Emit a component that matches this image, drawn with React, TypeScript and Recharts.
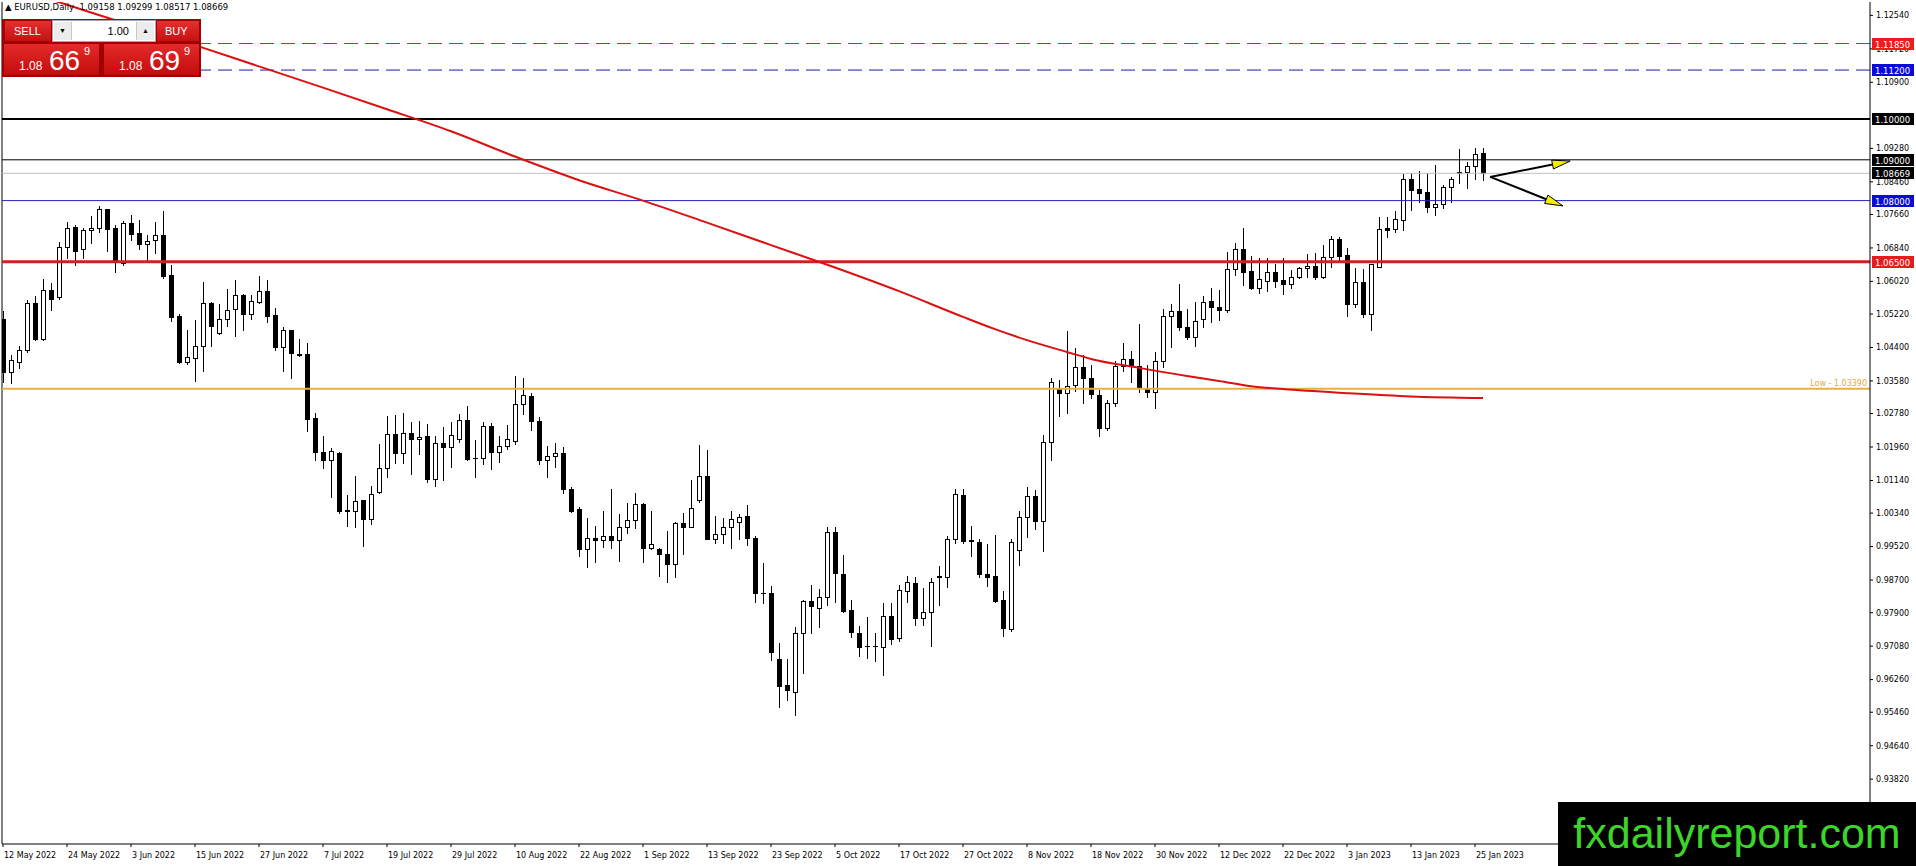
import React from "react";
import { ComposedChart, Bar, Line, XAxis, YAxis, ReferenceLine } from "recharts";

document.body.style.margin = "0";

// EURUSD daily, 12 May 2022 .. 26 Jan 2023
const opens = [
  1.0511, 1.0379, 1.0405, 1.0435, 1.0548, 1.0460, 1.0582, 1.0564, 1.0687, 1.0735,
  1.0681, 1.0727, 1.0734, 1.0779, 1.0734, 1.0646, 1.0745, 1.0720, 1.0693, 1.0703,
  1.0716, 1.0618, 1.0517, 1.0405, 1.0415, 1.0444, 1.0548, 1.0475, 1.0509, 1.0534,
  1.0569, 1.0521, 1.0552, 1.0579, 1.0519, 1.0440, 1.0483, 1.0423, 1.0423, 1.0266,
  1.0183, 1.0163, 1.0181, 1.0042, 1.0039, 1.0066, 1.0019, 1.0087, 1.0144, 1.0227,
  1.0181, 1.0230, 1.0215, 1.0223, 1.0118, 1.0205, 1.0197, 1.0215, 1.0262, 1.0168,
  1.0168, 1.0248, 1.0183, 1.0199, 1.0212, 1.0301, 1.0321, 1.0260, 1.0163, 1.0174,
  1.0181, 1.0092, 1.0044, 0.9945, 0.9973, 0.9967, 0.9977, 0.9967, 1.0001, 1.0016,
  1.0056, 0.9948, 0.9946, 0.9934, 0.9909, 1.0009, 1.0001, 1.0066, 1.0125, 0.9971,
  0.9982, 1.0001, 1.0013, 1.0027, 0.9974, 0.9839, 0.9837, 0.9676, 0.9613, 0.9596,
  0.9739, 0.9819, 0.9801, 0.9828, 0.9987, 0.9886, 0.9797, 0.9741, 0.9708, 0.9708,
  0.9707, 0.9782, 0.9729, 0.9844, 0.9862, 0.9776, 0.9791, 0.9878, 0.9877, 0.9970,
  1.0078, 0.9967, 0.9962, 0.9886, 0.9880, 0.9821, 0.9750, 0.9944, 1.0024, 1.0076,
  1.0015, 1.0209, 1.0340, 1.0328, 1.0348, 1.0393, 1.0364, 1.0323, 1.0242, 1.0303,
  1.0395, 1.0411, 1.0395, 1.0341, 1.0330, 1.0407, 1.0517, 1.0530, 1.0489, 1.0465,
  1.0509, 1.0554, 1.0538, 1.0533, 1.0632, 1.0681, 1.0627, 1.0587, 1.0604, 1.0624,
  1.0605, 1.0595, 1.0612, 1.0634, 1.0640, 1.0612, 1.0661, 1.0705, 1.0667, 1.0546,
  1.0601, 1.0521, 1.0638, 1.0732, 1.0731, 1.0753, 1.0852, 1.0828, 1.0822, 1.0785,
  1.0791, 1.0833, 1.0869, 1.0869, 1.0885, 1.09158,
];
const highs = [
  1.0529, 1.0422, 1.0444, 1.0556, 1.0565, 1.0607, 1.0597, 1.0698, 1.0747, 1.0739,
  1.0732, 1.0763, 1.0787, 1.0780, 1.0739, 1.0750, 1.0765, 1.0752, 1.0716, 1.0747,
  1.0775, 1.0642, 1.0522, 1.0484, 1.0507, 1.0600, 1.0552, 1.0547, 1.0583, 1.0605,
  1.0572, 1.0569, 1.0615, 1.0605, 1.0536, 1.0489, 1.0484, 1.0462, 1.0450, 1.0279,
  1.0223, 1.0193, 1.0185, 1.0078, 1.0125, 1.0066, 1.0100, 1.0203, 1.0273, 1.0274,
  1.0279, 1.0257, 1.0260, 1.0252, 1.0223, 1.0244, 1.0257, 1.0277, 1.0297, 1.0213,
  1.0257, 1.0254, 1.0224, 1.0250, 1.0370, 1.0366, 1.0328, 1.0269, 1.0199, 1.0205,
  1.0195, 1.0097, 1.0048, 1.0021, 1.0002, 1.0038, 1.0092, 1.0032, 1.0060, 1.0084,
  1.0058, 1.0038, 0.9949, 0.9990, 1.0013, 1.0035, 1.0115, 1.0201, 1.0189, 1.0027,
  1.0021, 1.0039, 1.0031, 1.0054, 0.9978, 0.9911, 0.9855, 0.9715, 0.9676, 0.9756,
  0.9820, 0.9858, 0.9847, 1.0001, 1.0000, 0.9931, 0.9821, 0.9757, 0.9779, 0.9739,
  0.9813, 0.9813, 0.9858, 0.9881, 0.9878, 0.9850, 0.9874, 0.9904, 0.9979, 1.0093,
  1.0092, 1.0002, 0.9971, 0.9958, 0.9980, 0.9843, 0.9971, 1.0038, 1.0099, 1.0091,
  1.0225, 1.0364, 1.0360, 1.0480, 1.0438, 1.0422, 1.0397, 1.0336, 1.0311, 1.0407,
  1.0452, 1.0432, 1.0497, 1.0397, 1.0430, 1.0534, 1.0546, 1.0595, 1.0534, 1.0551,
  1.0566, 1.0587, 1.0581, 1.0673, 1.0695, 1.0734, 1.0664, 1.0660, 1.0660, 1.0645,
  1.0660, 1.0631, 1.0638, 1.0669, 1.0672, 1.0691, 1.0714, 1.0710, 1.0683, 1.0634,
  1.0632, 1.0645, 1.0759, 1.0759, 1.0774, 1.0865, 1.0867, 1.0872, 1.0867, 1.0887,
  1.0838, 1.0859, 1.0926, 1.0895, 1.0928, 1.09299,
];
const lows = [
  1.0355, 1.0352, 1.0390, 1.0430, 1.0458, 1.0459, 1.0532, 1.0558, 1.0660, 1.0641,
  1.0660, 1.0697, 1.0724, 1.0676, 1.0626, 1.0642, 1.0703, 1.0681, 1.0650, 1.0671,
  1.0611, 1.0505, 1.0401, 1.0399, 1.0359, 1.0383, 1.0444, 1.0474, 1.0493, 1.0469,
  1.0483, 1.0511, 1.0550, 1.0503, 1.0434, 1.0383, 1.0366, 1.0418, 1.0236, 1.0163,
  1.0145, 1.0074, 1.0035, 1.0002, 1.0001, 0.9953, 1.0007, 1.0083, 1.0122, 1.0156,
  1.0156, 1.0131, 1.0179, 1.0110, 1.0100, 1.0115, 1.0148, 1.0208, 1.0164, 1.0123,
  1.0154, 1.0142, 1.0160, 1.0190, 1.0204, 1.0276, 1.0238, 1.0154, 1.0123, 1.0148,
  1.0083, 1.0036, 0.9930, 0.9903, 0.9913, 0.9952, 0.9949, 0.9917, 0.9985, 0.9997,
  0.9915, 0.9945, 0.9881, 0.9866, 0.9878, 0.9935, 0.9999, 1.0062, 0.9970, 0.9960,
  0.9960, 0.9948, 0.9970, 0.9957, 0.9817, 0.9813, 0.9674, 0.9560, 0.9575, 0.9539,
  0.9641, 0.9739, 0.9756, 0.9809, 0.9817, 0.9792, 0.9731, 0.9684, 0.9678, 0.9672,
  0.9637, 0.9713, 0.9721, 0.9817, 0.9761, 0.9760, 0.9709, 0.9809, 0.9852, 0.9960,
  0.9960, 0.9930, 0.9877, 0.9856, 0.9817, 0.9734, 0.9745, 0.9907, 0.9976, 0.9995,
  0.9940, 1.0164, 1.0273, 1.0280, 1.0333, 1.0305, 1.0315, 1.0224, 1.0238, 1.0297,
  1.0383, 1.0356, 1.0332, 1.0319, 1.0291, 1.0393, 1.0440, 1.0483, 1.0461, 1.0444,
  1.0489, 1.0503, 1.0507, 1.0528, 1.0618, 1.0592, 1.0583, 1.0574, 1.0579, 1.0589,
  1.0571, 1.0587, 1.0611, 1.0612, 1.0607, 1.0611, 1.0638, 1.0654, 1.0518, 1.0540,
  1.0514, 1.0483, 1.0637, 1.0710, 1.0722, 1.0728, 1.0777, 1.0797, 1.0773, 1.0765,
  1.0781, 1.0797, 1.0844, 1.0832, 1.0853, 1.08517,
];
const closes = [
  1.0381, 1.0409, 1.0434, 1.0548, 1.0460, 1.0582, 1.0560, 1.0687, 1.0734, 1.0677,
  1.0728, 1.0733, 1.0779, 1.0731, 1.0652, 1.0744, 1.0717, 1.0693, 1.0702, 1.0716,
  1.0616, 1.0515, 1.0405, 1.0417, 1.0444, 1.0548, 1.0493, 1.0509, 1.0533, 1.0569,
  1.0521, 1.0555, 1.0579, 1.0518, 1.0440, 1.0483, 1.0426, 1.0422, 1.0264, 1.0183,
  1.0163, 1.0187, 1.0040, 1.0038, 1.0064, 1.0019, 1.0080, 1.0144, 1.0227, 1.0181,
  1.0230, 1.0215, 1.0220, 1.0118, 1.0205, 1.0197, 1.0225, 1.0262, 1.0167, 1.0168,
  1.0248, 1.0185, 1.0199, 1.0215, 1.0301, 1.0324, 1.0261, 1.0163, 1.0174, 1.0181,
  1.0092, 1.0040, 0.9945, 0.9972, 0.9967, 0.9977, 0.9967, 1.0001, 1.0017, 1.0056,
  0.9948, 0.9958, 0.9933, 0.9909, 1.0009, 1.0001, 1.0046, 1.0125, 0.9971, 0.9982,
  1.0001, 1.0019, 1.0025, 0.9972, 0.9839, 0.9838, 0.9693, 0.9611, 0.9600, 0.9739,
  0.9819, 0.9807, 0.9828, 0.9987, 0.9888, 0.9794, 0.9742, 0.9707, 0.9708, 0.9709,
  0.9782, 0.9725, 0.9846, 0.9864, 0.9776, 0.9791, 0.9864, 0.9879, 0.9970, 1.0080,
  0.9966, 0.9966, 0.9886, 0.9878, 0.9819, 0.9752, 0.9962, 1.0024, 1.0076, 1.0015,
  1.0209, 1.0355, 1.0328, 1.0346, 1.0393, 1.0364, 1.0325, 1.0242, 1.0303, 1.0395,
  1.0411, 1.0395, 1.0344, 1.0330, 1.0407, 1.0517, 1.0530, 1.0489, 1.0465, 1.0506,
  1.0552, 1.0538, 1.0533, 1.0632, 1.0681, 1.0626, 1.0585, 1.0607, 1.0624, 1.0603,
  1.0595, 1.0612, 1.0634, 1.0640, 1.0612, 1.0661, 1.0705, 1.0665, 1.0546, 1.0601,
  1.0521, 1.0644, 1.0730, 1.0728, 1.0754, 1.0852, 1.0826, 1.0819, 1.0785, 1.0791,
  1.0833, 1.0852, 1.0867, 1.0885, 1.0915, 1.08669,
];

// moving average, read at a few bars; the library draws the curve between them
const maBars = [0, 8, 16, 24, 32, 40, 48, 56, 64, 72, 80, 88, 96, 104, 112, 120, 124, 128, 133, 136, 142, 148, 152, 156, 160, 168, 176, 185];
const maValues = [1.1330, 1.1280, 1.1230, 1.1181, 1.1129, 1.1077, 1.1024, 1.0970, 1.0908, 1.0850, 1.0800, 1.0746, 1.0691, 1.0636, 1.0578, 1.0515, 1.0485, 1.0458, 1.0429, 1.0412, 1.0390, 1.0370, 1.0358, 1.0345, 1.0338, 1.0328, 1.0320, 1.0316];

const dateLabels = [
  "12 May 2022", "24 May 2022", "3 Jun 2022", "15 Jun 2022", "27 Jun 2022", "7 Jul 2022",
  "19 Jul 2022", "29 Jul 2022", "10 Aug 2022", "22 Aug 2022", "1 Sep 2022", "13 Sep 2022",
  "23 Sep 2022", "5 Oct 2022", "17 Oct 2022", "27 Oct 2022", "8 Nov 2022", "18 Nov 2022",
  "30 Nov 2022", "12 Dec 2022", "22 Dec 2022", "3 Jan 2023", "13 Jan 2023", "25 Jan 2023",
];
const dateTicks = dateLabels.map((_, k) => k * 8);

const priceTicks = [
  1.1254, 1.1172, 1.109, 1.0928, 1.0846, 1.0766, 1.0684, 1.0602, 1.0522, 1.044, 1.0358, 1.0278,
  1.0196, 1.0114, 1.0034, 0.9952, 0.987, 0.979, 0.9708, 0.9626, 0.9546, 0.9464, 0.9382,
];

// horizontal levels and the price tags on the axis
const levelPrices = [1.1185, 1.112, 1.1, 1.09, 1.08669, 1.08, 1.065];
const levelTags = ["1.11850", "1.11200", "1.10000", "1.09000", "1.08669", "1.08000", "1.06500"];
const tagColors = ["#ee1c1c", "#0a0ad8", "#000", "#000", "#000", "#0a0ad8", "#e41c1c"];

// drawn objects: arrow start and the two tips (bar index, price)
const arrowFrom = { x: 185.9, y: 1.0858 };
const arrowUp = { x: 195.9, y: 1.0897 };
const arrowDown = { x: 195.0, y: 1.0787 };

const X_DOMAIN: [number, number] = [-0.125, 233.375];
const Y_DOMAIN: [number, number] = [0.9223, 1.12868];
const FONT = "'DejaVu Sans', Tahoma, sans-serif";
const UI_FONT = "'Liberation Sans', Arial, sans-serif";

const rows = opens.map((o, k) => {
  const m = maBars.indexOf(k);
  return {
    i: k,
    o,
    h: highs[k],
    l: lows[k],
    c: closes[k],
    range: [lows[k], highs[k]],
    ma: m >= 0 ? maValues[m] : null,
  };
});

function Candle(props: any) {
  const { x, y, width, height, payload } = props;
  if (x == null || y == null) return null;
  const { o, h, l, c } = payload;
  const cx = Math.round(x + width / 2);
  const top = Math.min(y, y + height);
  const span = Math.abs(height);
  const py = (v: number) => top + ((h - v) / (h - l || 1)) * span;
  const b1 = Math.round(Math.min(py(o), py(c)));
  const b2 = Math.round(Math.max(py(o), py(c)));
  const up = c >= o;
  return (
    <g>
      <line x1={cx + 0.5} x2={cx + 0.5} y1={Math.round(top)} y2={Math.round(top + span) + 1} stroke="#000" strokeWidth={1} />
      {b2 - b1 < 1 ? (
        <line x1={cx - 2} x2={cx + 3} y1={b1 + 0.5} y2={b1 + 0.5} stroke="#000" strokeWidth={1} />
      ) : (
        <rect x={cx - 1.5} y={b1 + 0.5} width={4} height={b2 - b1} fill={up ? "#fff" : "#000"} stroke="#000" strokeWidth={1} />
      )}
    </g>
  );
}

function Tag(props: any) {
  const { viewBox, text, bg } = props;
  if (!viewBox) return null;
  const x = viewBox.x + viewBox.width + 2;
  const y = Math.round(viewBox.y) - 6;
  return (
    <g>
      <rect x={x} y={y} width={42} height={12} fill={bg} />
      <text x={x + 3} y={y + 9.5} fill="#fff" fontSize={8.5} fontFamily={FONT}>{text}</text>
    </g>
  );
}

function LowLabel(props: any) {
  const { viewBox } = props;
  if (!viewBox) return null;
  return (
    <text x={viewBox.x + viewBox.width - 3} y={viewBox.y - 3} textAnchor="end" fill="#e8a838" fontSize={8} fontFamily={FONT}>
      Low - 1.03390
    </text>
  );
}

function Arrow(props: any) {
  const { x1, y1, x2, y2 } = props;
  if (x1 == null) return null;
  const a = Math.atan2(y2 - y1, x2 - x1);
  const len = 18;
  const w = 4.5;
  const bx = x2 - len * Math.cos(a);
  const by = y2 - len * Math.sin(a);
  const nx = -Math.sin(a) * w;
  const ny = Math.cos(a) * w;
  return (
    <g>
      <line x1={x1} y1={y1} x2={bx} y2={by} stroke="#000" strokeWidth={2} />
      <polygon points={`${x2},${y2} ${bx + nx},${by + ny} ${bx - nx},${by - ny}`} fill="#f2ee00" stroke="#000" strokeWidth={1} />
    </g>
  );
}

function DateTick(props: any) {
  const { x, y, payload } = props;
  const label = dateLabels[dateTicks.indexOf(payload.value)];
  return (
    <text x={x + 1} y={y + 9} fill="#000" fontSize={8} fontFamily={FONT} textAnchor="start">
      {label}
    </text>
  );
}

function PriceBox({ left, small, big, sup }: { left: number; small: string; big: string; sup: string }) {
  return (
    <div
      style={{
        position: "absolute", left, top: 43, width: 97, height: 33,
        background: "linear-gradient(#e42a2a, #c40c0c)", color: "#fff",
        fontFamily: UI_FONT, border: "1px solid #9a0000", boxSizing: "border-box",
      }}
    >
      <span style={{ position: "absolute", left: 15, top: 16, fontSize: 12, lineHeight: 1 }}>{small}</span>
      <span style={{ position: "absolute", left: 45, top: 3, fontSize: 28, lineHeight: 1 }}>{big}</span>
      <span style={{ position: "absolute", left: 80, top: 2, fontSize: 11, lineHeight: 1 }}>{sup}</span>
    </div>
  );
}

function TradePanel() {
  const red = "linear-gradient(#e43030, #c81010)";
  return (
    <div style={{ position: "absolute", left: 0, top: 0, width: 210, height: 80, pointerEvents: "none" }}>
      <div style={{ position: "absolute", left: 5, top: 2, fontSize: 8.5, fontFamily: FONT, whiteSpace: "pre" }}>
        {"▲ EURUSD,Daily  1.09158 1.09299 1.08517 1.08669"}
      </div>
      <div style={{ position: "absolute", left: 2, top: 19, width: 199, height: 58, background: "#a40000" }} />
      <div style={{ position: "absolute", left: 5, top: 21, width: 46, height: 20, background: red, color: "#fff", fontSize: 11, fontFamily: UI_FONT, lineHeight: "20px", paddingLeft: 9, boxSizing: "border-box" }}>SELL</div>
      <div style={{ position: "absolute", left: 52, top: 20, width: 104, height: 22, background: "#fff", border: "1px solid #a8a8a8", boxSizing: "border-box" }}>
        <div style={{ position: "absolute", left: 1, top: 1, width: 17, height: 18, background: "#ececec", borderRight: "1px solid #c8c8c8", fontSize: 7, textAlign: "center", lineHeight: "18px" }}>▼</div>
        <div style={{ position: "absolute", right: 26, top: 0, fontSize: 11, fontFamily: UI_FONT, lineHeight: "20px" }}>1.00</div>
        <div style={{ position: "absolute", right: 1, top: 1, width: 17, height: 18, background: "#ececec", borderLeft: "1px solid #c8c8c8", fontSize: 7, textAlign: "center", lineHeight: "18px" }}>▲</div>
      </div>
      <div style={{ position: "absolute", left: 157, top: 21, width: 42, height: 20, background: red, color: "#fff", fontSize: 11, fontFamily: UI_FONT, lineHeight: "20px", paddingLeft: 8, boxSizing: "border-box" }}>BUY</div>
      <PriceBox left={3} small="1.08" big="66" sup="9" />
      <PriceBox left={103} small="1.08" big="69" sup="9" />
    </div>
  );
}

export default function App() {
  return (
    <div style={{ position: "relative", width: 1916, height: 866, background: "#fff", overflow: "hidden" }}>
      <ComposedChart width={1916} height={866} data={rows} margin={{ top: 2, right: 0, bottom: 0, left: 2 }}>
        <XAxis
          dataKey="i"
          type="number"
          domain={X_DOMAIN}
          allowDataOverflow
          ticks={dateTicks}
          interval={0}
          height={22}
          axisLine={{ stroke: "#000" }}
          tickLine={{ stroke: "#000" }}
          tickSize={3}
          tick={<DateTick />}
        />
        <YAxis
          orientation="right"
          type="number"
          domain={Y_DOMAIN}
          allowDataOverflow
          ticks={priceTicks}
          interval={0}
          width={46}
          axisLine={{ stroke: "#000" }}
          tickLine={{ stroke: "#000" }}
          tickSize={3}
          tickMargin={3}
          tick={{ fill: "#000", fontSize: 8, fontFamily: FONT }}
          tickFormatter={(v: number) => v.toFixed(5)}
        />
        <ReferenceLine x={X_DOMAIN[0]} stroke="#000" strokeWidth={1} />
        <ReferenceLine y={1.0339} stroke="#e8b040" strokeWidth={2} label={<LowLabel />} />
        <ReferenceLine y={levelPrices[0]} stroke="#d82020" strokeWidth={1} strokeDasharray="14 7" />
        <ReferenceLine y={levelPrices[1]} stroke="#1a1aa8" strokeWidth={1} strokeDasharray="14 7" />
        <ReferenceLine y={levelPrices[2]} stroke="#000" strokeWidth={2} />
        <ReferenceLine y={levelPrices[3]} stroke="#000" strokeWidth={1} />
        <ReferenceLine y={levelPrices[4]} stroke="#c0c0c0" strokeWidth={1} />
        <ReferenceLine y={levelPrices[5]} stroke="#2020c0" strokeWidth={1} />
        <ReferenceLine y={levelPrices[6]} stroke="#cc2222" strokeWidth={3} />
        <Line
          dataKey="ma"
          type="monotone"
          connectNulls
          stroke="#dd1010"
          strokeWidth={2}
          dot={false}
          activeDot={false}
          isAnimationActive={false}
        />
        <Bar dataKey="range" barSize={5} shape={<Candle />} isAnimationActive={false} />
        <ReferenceLine segment={[arrowFrom, arrowUp]} ifOverflow="visible" shape={(p: any) => <Arrow {...p} />} />
        <ReferenceLine segment={[arrowFrom, arrowDown]} ifOverflow="visible" shape={(p: any) => <Arrow {...p} />} />
      </ComposedChart>

      {/* price tags drawn over the axis labels, on the same scales */}
      <div style={{ position: "absolute", left: 0, top: 0, pointerEvents: "none" }}>
        <ComposedChart width={1916} height={866} data={rows} margin={{ top: 2, right: 46, bottom: 22, left: 2 }}>
          <XAxis dataKey="i" type="number" domain={X_DOMAIN} allowDataOverflow hide />
          <YAxis type="number" domain={Y_DOMAIN} allowDataOverflow hide />
          {levelPrices.map((p, k) => (
            <ReferenceLine key={k} y={p} stroke="none" label={<Tag text={levelTags[k]} bg={tagColors[k]} />} />
          ))}
        </ComposedChart>
      </div>

      <TradePanel />
      <div
        style={{
          position: "absolute", left: 1558, top: 802, width: 358, height: 64, background: "#000",
          color: "#3cd62a", fontFamily: UI_FONT, fontSize: 43,
          lineHeight: "62px", textAlign: "center",
        }}
      >
        fxdailyreport.com
      </div>
    </div>
  );
}
